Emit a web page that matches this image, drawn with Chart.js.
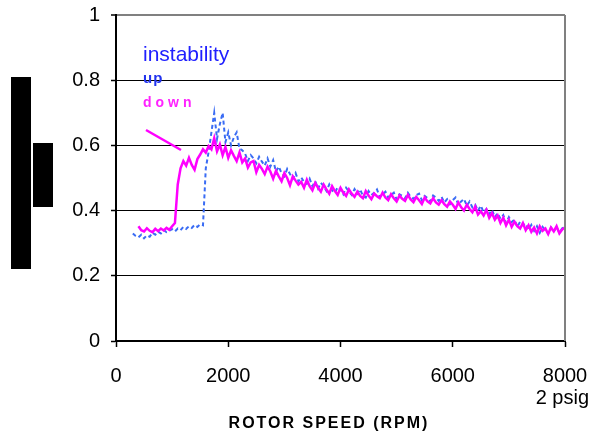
<!DOCTYPE html>
<html>
<head>
<meta charset="utf-8">
<script src="https://cdn.jsdelivr.net/npm/chart.js@4/dist/chart.umd.min.js"></script>
<style>
  html, body { margin: 0; padding: 0; background: #fff; }
  #wrap { width: 592px; height: 437px; position: relative; }
</style>
</head>
<body>
<div id="wrap"><canvas id="chart" width="592" height="437"></canvas></div>
<script>
// rotor speed samples (rpm)
const rpm = [
  300, 350, 400, 450, 500, 550, 600, 650, 700, 750,
  800, 850, 900, 950, 1000, 1050, 1100, 1150, 1200, 1250,
  1300, 1350, 1400, 1450, 1500, 1550, 1600, 1650, 1700, 1750,
  1800, 1850, 1900, 1950, 2000, 2050, 2100, 2150, 2200, 2250,
  2300, 2350, 2400, 2450, 2500, 2550, 2600, 2650, 2700, 2750,
  2800, 2850, 2900, 2950, 3000, 3050, 3100, 3150, 3200, 3250,
  3300, 3350, 3400, 3450, 3500, 3550, 3600, 3650, 3700, 3750,
  3800, 3850, 3900, 3950, 4000, 4050, 4100, 4150, 4200, 4250,
  4300, 4350, 4400, 4450, 4500, 4550, 4600, 4650, 4700, 4750,
  4800, 4850, 4900, 4950, 5000, 5050, 5100, 5150, 5200, 5250,
  5300, 5350, 5400, 5450, 5500, 5550, 5600, 5650, 5700, 5750,
  5800, 5850, 5900, 5950, 6000, 6050, 6100, 6150, 6200, 6250,
  6300, 6350, 6400, 6450, 6500, 6550, 6600, 6650, 6700, 6750,
  6800, 6850, 6900, 6950, 7000, 7050, 7100, 7150, 7200, 7250,
  7300, 7350, 7400, 7450, 7500, 7550, 7600, 7650, 7700, 7750,
  7800, 7850, 7900, 7950, 8000
];

// speed going up
const up = [
  0.330, 0.322, 0.318, 0.326, 0.315, 0.324, 0.320, 0.332, 0.326, 0.335,
  0.330, 0.340, 0.334, 0.338, 0.343, 0.336, 0.345, 0.340, 0.350, 0.344,
  0.352, 0.347, 0.356, 0.350, 0.358, 0.355, 0.530, 0.580, 0.640, 0.700,
  0.620, 0.665, 0.700, 0.610, 0.640, 0.600, 0.625, 0.640, 0.590, 0.585,
  0.575, 0.552, 0.570, 0.560, 0.545, 0.565, 0.550, 0.538, 0.560, 0.535,
  0.555, 0.520, 0.535, 0.515, 0.505, 0.528, 0.512, 0.498, 0.515, 0.490,
  0.502, 0.488, 0.482, 0.498, 0.475, 0.490, 0.468, 0.485, 0.475, 0.460,
  0.480, 0.462, 0.455, 0.472, 0.465, 0.450, 0.470, 0.458, 0.448, 0.466,
  0.452, 0.465, 0.445, 0.440, 0.460, 0.448, 0.455, 0.465, 0.442, 0.450,
  0.458, 0.440, 0.448, 0.455, 0.435, 0.450, 0.445, 0.438, 0.455, 0.442,
  0.436, 0.448, 0.452, 0.432, 0.445, 0.438, 0.428, 0.446, 0.440, 0.430,
  0.442, 0.425, 0.435, 0.420, 0.432, 0.440, 0.418, 0.428, 0.436, 0.415,
  0.428, 0.410, 0.418, 0.400, 0.415, 0.395, 0.405, 0.390, 0.402, 0.380,
  0.392, 0.375, 0.386, 0.362, 0.380, 0.365, 0.372, 0.350, 0.366, 0.355,
  0.360, 0.342, 0.356, 0.338, 0.352, 0.332, 0.350, 0.340, 0.330, 0.348,
  0.336, 0.350, 0.332, 0.346, 0.350
];

// speed going down
const down = [
  null, null, 0.352, 0.340, 0.336, 0.346, 0.338, 0.334, 0.344, 0.337,
  0.345, 0.339, 0.347, 0.341, 0.352, 0.362, 0.480, 0.530, 0.552, 0.538,
  0.562, 0.540, 0.525, 0.558, 0.572, 0.588, 0.578, 0.598, 0.588, 0.622,
  0.582, 0.603, 0.570, 0.595, 0.562, 0.585, 0.568, 0.552, 0.578, 0.548,
  0.560, 0.532, 0.548, 0.552, 0.518, 0.540, 0.528, 0.512, 0.535, 0.520,
  0.498, 0.522, 0.505, 0.490, 0.515, 0.500, 0.478, 0.505, 0.492, 0.480,
  0.488, 0.470, 0.495, 0.475, 0.462, 0.485, 0.470, 0.458, 0.480, 0.465,
  0.452, 0.475, 0.460, 0.448, 0.470, 0.455, 0.445, 0.465, 0.452, 0.442,
  0.458, 0.445, 0.438, 0.460, 0.446, 0.435, 0.452, 0.444, 0.438, 0.455,
  0.440, 0.432, 0.450, 0.438, 0.428, 0.446, 0.436, 0.430, 0.448, 0.434,
  0.426, 0.442, 0.432, 0.420, 0.440, 0.428, 0.422, 0.438, 0.425, 0.418,
  0.432, 0.420, 0.412, 0.428, 0.418, 0.405, 0.425, 0.410, 0.400, 0.418,
  0.405, 0.395, 0.412, 0.388, 0.398, 0.385, 0.402, 0.378, 0.392, 0.372,
  0.385, 0.362, 0.378, 0.355, 0.372, 0.350, 0.366, 0.352, 0.345, 0.362,
  0.340, 0.355, 0.335, 0.348, 0.330, 0.352, 0.338, 0.345, 0.328, 0.348,
  0.336, 0.352, 0.330, 0.342, 0.348
];

const xTicks = [0, 2000, 4000, 6000, 8000];
const yTicks = [0, 0.2, 0.4, 0.6, 0.8, 1];

const FONT = "'Liberation Sans', Arial, sans-serif";

const pts = arr => rpm.map((r, i) => ({ x: r, y: arr[i] }));

const extras = {
  id: 'extras',
  afterDraw(chart) {
    const c = chart.ctx;
    const a = chart.chartArea;
    c.save();
    // right border
    c.strokeStyle = '#808080';
    c.lineWidth = 2;
    c.beginPath();
    c.moveTo(a.right, a.top);
    c.lineTo(a.right, a.bottom);
    c.stroke();

    // blocks left of the axis
    c.fillStyle = '#000';
    c.fillRect(11, 77, 20, 192);
    c.fillRect(33, 143, 20, 64);

    // labels inside the plot
    c.textBaseline = 'alphabetic';
    c.textAlign = 'left';
    c.fillStyle = '#2020ff';
    c.font = '21px ' + FONT;
    c.fillText('instability', 143, 61);
    c.fillStyle = '#2233ee';
    c.font = 'bold 15px ' + FONT;
    c.letterSpacing = '1px';
    c.fillText('up', 143, 83);
    c.fillStyle = '#ff22ff';
    c.font = 'bold 14px ' + FONT;
    c.letterSpacing = '4px';
    c.fillText('down', 143, 107);

    // pointer line
    c.strokeStyle = '#ff00ff';
    c.lineWidth = 2.5;
    c.beginPath();
    c.moveTo(146, 130);
    c.lineTo(181, 150);
    c.stroke();

    // axis texts
    c.letterSpacing = '0px';
    c.fillStyle = '#000';
    c.font = '20px ' + FONT;
    c.textAlign = 'right';
    c.fillText('2 psig', 589, 404);
    c.font = 'bold 16px ' + FONT;
    c.letterSpacing = '2px';
    c.textAlign = 'center';
    c.fillText('ROTOR SPEED (RPM)', 329, 428);
    c.restore();
  }
};

new Chart(document.getElementById('chart'), {
  type: 'line',
  data: {
    datasets: [
      {
        label: 'down',
        data: pts(down),
        borderColor: '#ff00ff',
        borderWidth: 2.5,
        pointRadius: 0,
        tension: 0,
        spanGaps: false,
        order: 0
      },
      {
        label: 'up',
        data: pts(up),
        borderColor: '#3a6cf4',
        borderWidth: 2,
        borderDash: [4, 3],
        pointRadius: 0,
        tension: 0,
        order: 1
      }
    ]
  },
  options: {
    responsive: false,
    animation: false,
    layout: { padding: { left: 0, top: 15, right: 27, bottom: 0 } },
    plugins: { legend: { display: false }, tooltip: { enabled: false } },
    scales: {
      x: {
        type: 'linear',
        min: 0,
        max: 8000,
        afterFit: s => { s.height = 96; s.paddingLeft = 0; s.paddingRight = 0; },
        afterBuildTicks: s => { s.ticks = xTicks.map(v => ({ value: v })); },
        border: { color: '#000', width: 2 },
        grid: { drawOnChartArea: false, drawTicks: true, tickLength: 6, tickColor: '#000', tickWidth: 1.5 },
        ticks: {
          color: '#000',
          font: { family: FONT, size: 20 },
          padding: 17,
          maxRotation: 0,
          callback: v => String(v)
        }
      },
      y: {
        min: 0,
        max: 1,
        afterFit: s => { s.width = 116; s.paddingTop = 0; s.paddingBottom = 0; },
        afterBuildTicks: s => { s.ticks = yTicks.map(v => ({ value: v })); },
        border: { color: '#000', width: 2 },
        grid: {
          color: c => (c.tick && c.tick.value === 1 ? '#808080' : '#000'),
          lineWidth: c => (c.tick && c.tick.value === 1 ? 2 : 1),
          tickLength: 5,
          tickColor: '#000',
          tickWidth: 1.5
        },
        ticks: {
          color: '#000',
          font: { family: FONT, size: 20 },
          padding: 11,
          callback: v => String(v)
        }
      }
    }
  },
  plugins: [extras]
});
</script>
</body>
</html>
